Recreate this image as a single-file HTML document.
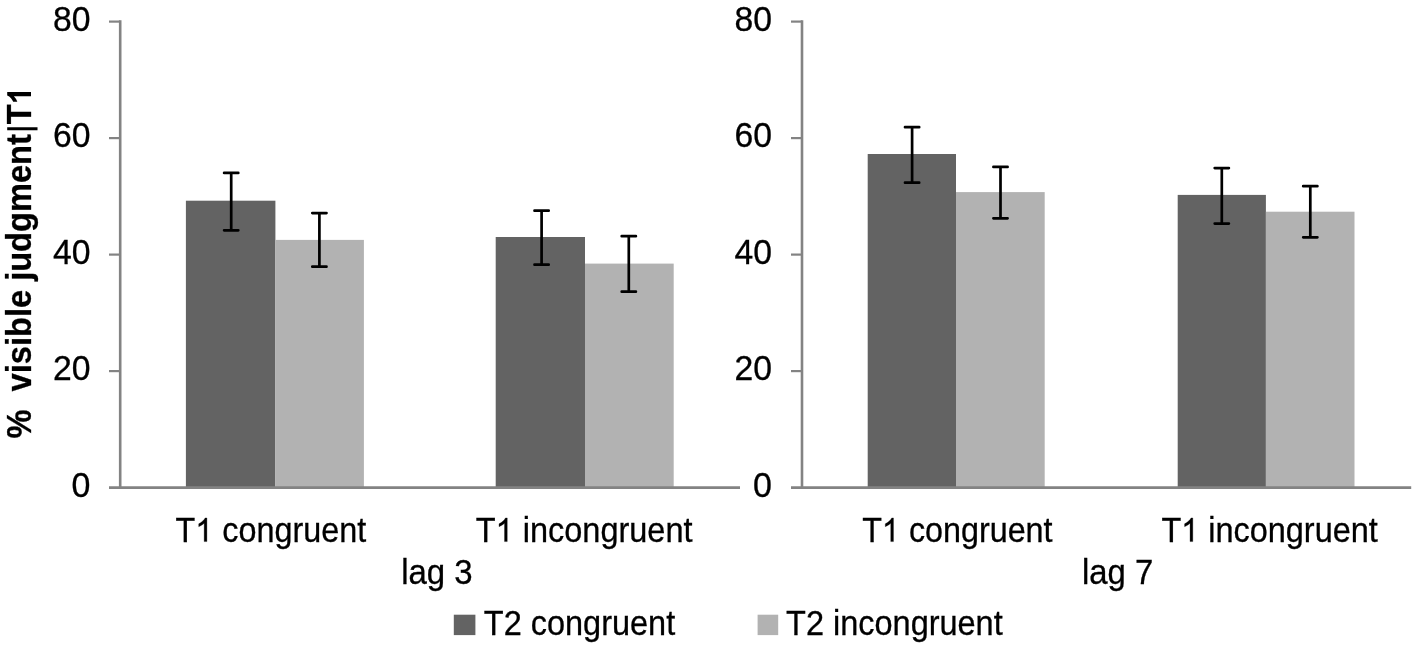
<!DOCTYPE html>
<html><head><meta charset="utf-8"><title>chart</title>
<style>
html,body{margin:0;padding:0;background:#fff;}
body{width:1417px;height:649px;overflow:hidden;font-family:"Liberation Sans",sans-serif;}
svg{display:block;will-change:transform;}
text{font-family:"Liberation Sans",sans-serif;fill:#000;stroke:#000;stroke-width:0.3px;}
path.g{stroke:#000;stroke-width:18;}
</style></head><body>
<svg width="1417" height="649" viewBox="0 0 1417 649">
<rect x="0" y="0" width="1417" height="649" fill="#ffffff"/>
<rect x="185.9" y="200.7" width="89.5" height="286.9" fill="#636363"/>
<rect x="275.4" y="239.9" width="88.5" height="247.7" fill="#b2b2b2"/>
<rect x="495.7" y="237.0" width="89.3" height="250.6" fill="#636363"/>
<rect x="585.0" y="263.6" width="88.7" height="224.0" fill="#b2b2b2"/>
<rect x="867.7" y="154.0" width="88.3" height="333.6" fill="#636363"/>
<rect x="956.0" y="192.1" width="88.7" height="295.5" fill="#b2b2b2"/>
<rect x="1177.7" y="194.9" width="88.2" height="292.7" fill="#636363"/>
<rect x="1265.9" y="211.7" width="88.6" height="275.9" fill="#b2b2b2"/>
<g stroke="#838383" stroke-width="2.6" fill="none">
<line x1="120.2" y1="20.3" x2="120.2" y2="487.6"/>
<line x1="109.0" y1="487.6" x2="740.0" y2="487.6" stroke-width="2.8"/>
<line x1="109.0" y1="371.1" x2="120.2" y2="371.1" stroke-width="2.2"/>
<line x1="109.0" y1="254.6" x2="120.2" y2="254.6" stroke-width="2.2"/>
<line x1="109.0" y1="138.1" x2="120.2" y2="138.1" stroke-width="2.2"/>
<line x1="109.0" y1="21.6" x2="120.2" y2="21.6" stroke-width="2.2"/>
</g>
<g stroke="#838383" stroke-width="2.6" fill="none">
<line x1="802.0" y1="20.3" x2="802.0" y2="487.6"/>
<line x1="791.0" y1="487.6" x2="1411.2" y2="487.6" stroke-width="2.8"/>
<line x1="791.0" y1="371.1" x2="802.0" y2="371.1" stroke-width="2.2"/>
<line x1="791.0" y1="254.6" x2="802.0" y2="254.6" stroke-width="2.2"/>
<line x1="791.0" y1="138.1" x2="802.0" y2="138.1" stroke-width="2.2"/>
<line x1="791.0" y1="21.6" x2="802.0" y2="21.6" stroke-width="2.2"/>
</g>
<g stroke="#000" stroke-width="2.7" stroke-linecap="round" fill="none">
<path d="M224.1 172.9H238.3M224.1 230.3H238.3M231.2 172.9V230.3"/>
<path d="M312.3 213.1H326.5M312.3 266.7H326.5M319.4 213.1V266.7"/>
<path d="M534.5 210.7H548.7M534.5 264.7H548.7M541.6 210.7V264.7"/>
<path d="M621.7 236.2H635.9M621.7 291.7H635.9M628.8 236.2V291.7"/>
<path d="M905.0 127.2H919.2M905.0 182.7H919.2M912.1 127.2V182.7"/>
<path d="M993.4 166.9H1007.6M993.4 218.3H1007.6M1000.5 166.9V218.3"/>
<path d="M1214.7 168.1H1228.9M1214.7 223.6H1228.9M1221.8 168.1V223.6"/>
<path d="M1303.2 186.2H1317.4M1303.2 237.3H1317.4M1310.3 186.2V237.3"/>
</g>
<text x="71.6" y="496.7" font-size="34.6" textLength="18.9" lengthAdjust="spacingAndGlyphs">0</text>
<text x="53.0" y="380.2" font-size="34.6" textLength="37.5" lengthAdjust="spacingAndGlyphs">20</text>
<text x="53.0" y="263.7" font-size="34.6" textLength="37.5" lengthAdjust="spacingAndGlyphs">40</text>
<text x="53.0" y="147.2" font-size="34.6" textLength="37.5" lengthAdjust="spacingAndGlyphs">60</text>
<text x="53.0" y="30.7" font-size="34.6" textLength="37.5" lengthAdjust="spacingAndGlyphs">80</text>
<text x="753.0" y="496.7" font-size="34.6" textLength="18.9" lengthAdjust="spacingAndGlyphs">0</text>
<text x="734.4" y="380.2" font-size="34.6" textLength="37.5" lengthAdjust="spacingAndGlyphs">20</text>
<text x="734.4" y="263.7" font-size="34.6" textLength="37.5" lengthAdjust="spacingAndGlyphs">40</text>
<text x="734.4" y="147.2" font-size="34.6" textLength="37.5" lengthAdjust="spacingAndGlyphs">60</text>
<text x="734.4" y="30.7" font-size="34.6" textLength="37.5" lengthAdjust="spacingAndGlyphs">80</text>
<g transform="translate(175.6,541.6) scale(0.9402,1)">
<text x="0" y="0" font-size="34.4">T</text>
<path transform="translate(21.02,0) scale(0.01680,-0.01680)" d="M730 0H558V1098Q496 1038 395 979Q294 920 213 890V1057Q358 1124 466 1221Q574 1318 619 1409H730Z" class="g"/>
<text x="49.71" y="0" font-size="34.4">congruent</text>
</g>
<g transform="translate(475.8,541.6) scale(0.9447,1)">
<text x="0" y="0" font-size="34.4">T</text>
<path transform="translate(21.02,0) scale(0.01680,-0.01680)" d="M730 0H558V1098Q496 1038 395 979Q294 920 213 890V1057Q358 1124 466 1221Q574 1318 619 1409H730Z" class="g"/>
<text x="49.71" y="0" font-size="34.4">incongruent</text>
</g>
<g transform="translate(862.2,541.6) scale(0.9393,1)">
<text x="0" y="0" font-size="34.4">T</text>
<path transform="translate(21.02,0) scale(0.01680,-0.01680)" d="M730 0H558V1098Q496 1038 395 979Q294 920 213 890V1057Q358 1124 466 1221Q574 1318 619 1409H730Z" class="g"/>
<text x="49.71" y="0" font-size="34.4">congruent</text>
</g>
<g transform="translate(1161.4,541.6) scale(0.9430,1)">
<text x="0" y="0" font-size="34.4">T</text>
<path transform="translate(21.02,0) scale(0.01680,-0.01680)" d="M730 0H558V1098Q496 1038 395 979Q294 920 213 890V1057Q358 1124 466 1221Q574 1318 619 1409H730Z" class="g"/>
<text x="49.71" y="0" font-size="34.4">incongruent</text>
</g>
<text x="401.2" y="584.3" font-size="34.4" textLength="71.5" lengthAdjust="spacingAndGlyphs">lag 3</text>
<text x="1082.0" y="584.3" font-size="34.4" textLength="71.3" lengthAdjust="spacingAndGlyphs">lag 7</text>
<rect x="453.8" y="614.7" width="21.6" height="20.4" fill="#636363"/>
<rect x="757.6" y="614.7" width="20.6" height="20.4" fill="#b2b2b2"/>
<text x="483.8" y="635.1" font-size="34.4" textLength="191.4" lengthAdjust="spacingAndGlyphs">T2 congruent</text>
<text x="786.1" y="635.1" font-size="34.4" textLength="216.6" lengthAdjust="spacingAndGlyphs">T2 incongruent</text>
<g transform="translate(31.0,438.5) rotate(-90) scale(0.9425,1)">
<text x="0" y="0" font-size="34.6" font-weight="bold" stroke="none" xml:space="preserve">%  visible judgment</text>
<rect x="327.05" y="-23.80" width="3.18" height="30.31" fill="#000"/>
<text x="333.47" y="0" font-size="34.6" font-weight="bold" stroke="none">T</text>
<path transform="translate(354.61,0) scale(0.01689,-0.01689)" d="M771 0H502V1013Q355 876 155 810V1054Q260 1088 384 1184Q507 1280 553 1409H771Z"/>
</g>
</svg>
</body></html>
